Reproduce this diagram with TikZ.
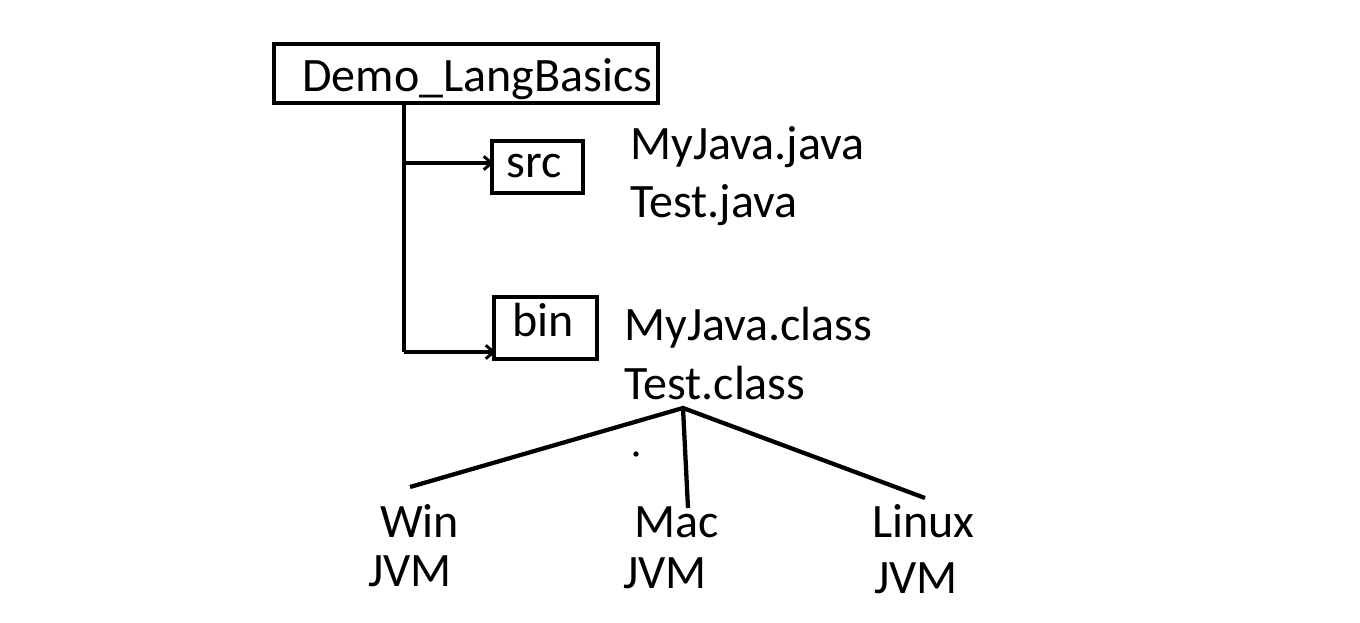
\documentclass[tikz,border=0pt]{standalone}
\usepackage{fontspec}
\setmainfont{Carlito}
\usetikzlibrary{arrows.meta}
\begin{document}
\begin{tikzpicture}[x=0.75pt,y=-0.75pt,
  txt/.style={anchor=base west,inner sep=0pt,font=\fontsize{36}{38}\selectfont},
  box/.style={draw,line width=3.2pt},
  conn/.style={line width=3.2pt},
  arr/.style={conn,-{Straight Barb[length=6pt,width=10pt,line width=2.2pt]}}]
\useasboundingbox (0,0) rectangle (1360,623);
\fill[white] (0,0) rectangle (1360,623);
% boxes
\draw[box] (274,44) rectangle (658,103);
\node[txt] (demo) at (302,92) {Demo\_LangBasics};
\coordinate (demoB) at (404,103);
\draw[box] (492,141) rectangle (583,193);
\node[txt] (src) at (506,178) {src};
\coordinate (srcW) at (494,163);
\draw[box] (494,297) rectangle (597,359);
\node[txt] (bin) at (512,337) {bin};
\coordinate (binW) at (496,352);
% connectors
\coordinate (corner) at (404,352);
\draw[conn] (demoB) -- (corner);
\draw[arr] (404,163) -- (srcW);
\draw[arr] (corner) -- (binW);
% file texts
\node[txt] (myjava) at (630,160) {MyJava.java};
\node[txt] (testjava) at (630,218) {Test.java};
\node[txt] (myclass) at (624,341) {MyJava.class};
\node[txt] (testclass) at (624,400) {Test.class};
\coordinate (apex) at (683,408);
\coordinate (winE) at (410,487);
\coordinate (macE) at (688,508);
\coordinate (linE) at (925,498);
\draw[conn] (winE) -- (apex) -- (linE);
\draw[conn] (apex) -- (macE);
\fill (636,454) circle (2pt);
% platforms
\node[txt] (win) at (380,537) {Win};
\node[txt] (winjvm) at (368,586) {JVM};
\node[txt] (mac) at (634,537) {Mac};
\node[txt] (macjvm) at (623,588) {JVM};
\node[txt] (linux) at (872,537) {Linux};
\node[txt] (linjvm) at (874,593) {JVM};
\end{tikzpicture}
\end{document}
